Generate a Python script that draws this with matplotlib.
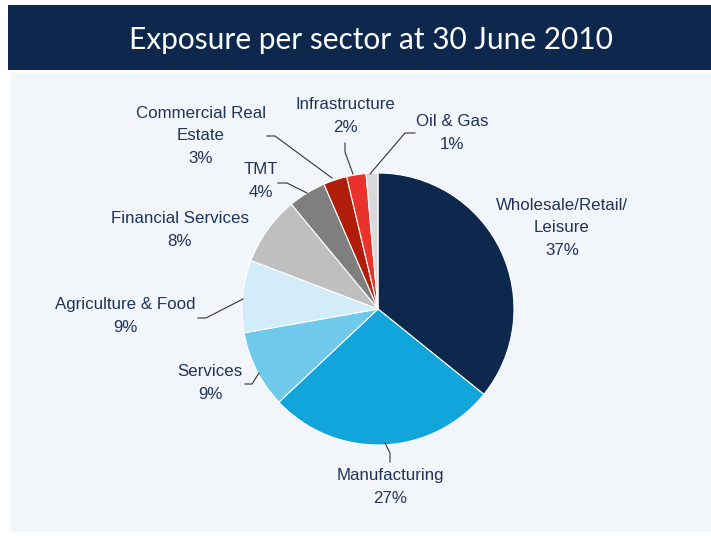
import matplotlib
matplotlib.use("Agg")
import matplotlib.pyplot as plt
from matplotlib.patches import Rectangle

W, H = 711, 536

sectors = ["Wholesale/Retail/\nLeisure", "Manufacturing", "Services", "Agriculture & Food",
           "Financial Services", "TMT", "Commercial Real\nEstate", "Infrastructure", "Oil & Gas"]
labels_pct = [37, 27, 9, 9, 8, 4, 3, 2, 1]
# slice sizes as drawn in the picture (labels are rounded)
shares = [35.8, 27.2, 9.2, 8.6, 8.2, 4.5, 2.8, 2.3, 1.4]
colors = ["#0E284D", "#12A5DC", "#6FC9EB", "#D2EDF9", "#BFBFBF", "#7F7F7F", "#B01E0A", "#E8322B", "#D9D9D9"]

# label centres in pixels (x, y from top)
label_pos = [(562, 228), (390, 487), (210, 383), (125, 316), (180, 230),
             (261, 181), (201, 136), (345, 116), (452, 133)]
# leader lines, pixels from top
leaders = [
    None,
    [(385, 443), (390, 453), (390, 462)],
    [(245, 384), (252, 384), (259, 373)],
    [(198, 318), (206, 318), (243, 299)],
    None,
    [(278, 183), (287, 183), (307, 193)],
    [(267, 136), (275, 136), (332, 178)],
    [(345, 143), (345, 152), (353, 174)],
    [(415, 133), (405, 133), (370, 174)],
]

def py(y):
    return H - y

fig = plt.figure(figsize=(W / 100, H / 100), dpi=100, facecolor="white")
ax = fig.add_axes([0, 0, 1, 1])
ax.axis("off")

# title bar and panel
ax.add_patch(Rectangle((8, py(70)), W - 8, 65, facecolor="#0E284D", edgecolor="none", zorder=0))
ax.add_patch(Rectangle((11, py(532)), W - 11, 459, facecolor="#F2F6FA", edgecolor="none", zorder=0))
ax.text(371, py(40), "Exposure per sector at 30 June 2010", color="white", fontsize=21.5,
        family="Lato", ha="center", va="center")

ax.pie(shares, colors=colors, startangle=90, counterclock=False,
       center=(378, py(309)), radius=136,
       wedgeprops=dict(edgecolor="white", linewidth=0.8), frame=True)

txt = "#1F3458"
for name, val, (x, y), ld in zip(sectors, labels_pct, label_pos, leaders):
    ax.text(x, py(y), f"{name}\n{val}%", color=txt, fontsize=12.2, family="Liberation Sans",
            ha="center", va="center", linespacing=1.6)
    if ld:
        ax.plot([p[0] for p in ld], [py(p[1]) for p in ld], color="#333333", lw=0.8, zorder=3)

ax.set_xlim(0, W)
ax.set_ylim(0, H)
ax.set_aspect("equal")
ax.axis("off")

fig.savefig("out.png", dpi=100, facecolor="white")
